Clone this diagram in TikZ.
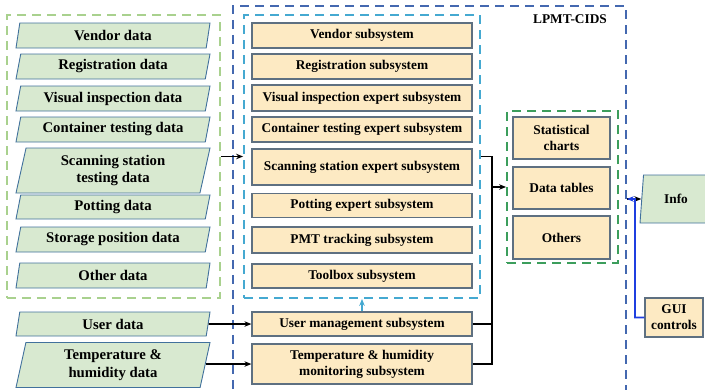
\documentclass[tikz,border=0pt]{standalone}
\usepackage{fontspec}
\setmainfont{Liberation Serif}
\usetikzlibrary{arrows.meta,positioning,shapes.geometric}
\definecolor{datfill}{HTML}{D8E9D0}
\definecolor{datline}{HTML}{41719C}
\definecolor{subfill}{HTML}{FDEAC3}
\definecolor{subline}{HTML}{5E7081}
\definecolor{lgreen}{HTML}{A9D18E}
\definecolor{dgreen}{HTML}{3C9E5C}
\definecolor{navy}{HTML}{4468B0}
\definecolor{cyanish}{HTML}{45A9D1}
\definecolor{guiblue}{HTML}{1F3FE0}

\begin{document}
\begin{tikzpicture}[x=1bp,y=-1bp,
  dat/.style={trapezium,trapezium left angle=73,trapezium right angle=107,trapezium stretches body,
    draw=datline,fill=datfill,line width=0.9bp,minimum width=194bp,inner sep=1bp,align=center,
    font=\bfseries\fontsize{14.8}{17.5}\selectfont},
  sub/.style={draw=subline,fill=subfill,line width=1.2bp,minimum width=220bp,inner sep=1bp,align=center,
    font=\bfseries\fontsize{13.4}{16}\selectfont},
  grp/.style={line width=1.8bp,dash pattern=on 9bp off 6bp,inner sep=0pt},
  wire/.style={line width=1.6bp,line join=miter},
  conn/.style={line width=1.6bp,-{Stealth[length=7bp,width=5.5bp]}}]
\useasboundingbox (0,0) rectangle (705,389);
% dashed groups
\node[grp,draw=lgreen,minimum width=213bp,minimum height=283bp] (dgrp) at (113.5,156.5) {};
\node[grp,draw=navy,minimum width=393bp,minimum height=400bp,anchor=north west] (sys) at (232,5) {};
\node[grp,draw=cyanish,minimum width=236bp,minimum height=283bp] (sgrp) at (362,156.5) {};
\node[grp,draw=dgreen,minimum width=111bp,minimum height=152bp] (ogrp) at (562.5,187) {};
\node[font=\bfseries\fontsize{13.4}{16}\selectfont] (lbl) at (570,19) {LPMT-CIDS};
% data sources
\foreach \n/\y/\h/\t in {vend/35.5/25/Vendor data, reg/66.5/25/Registration data,
  vis/98.5/25/Visual inspection data, cont/129.5/25/Container testing data,
  scan/170.5/45/{Scanning station\\testing data}, pot/207/24/Potting data,
  stor/239.5/25/Storage position data, oth/275.5/25/Other data,
  user/324/24/User data, temp/365/45/{Temperature \&\\humidity data}}
  \node[dat,minimum height=\h bp] (d\n) at (113,\y) {\t};
% subsystems
\foreach \n/\y/\h/\t in {vend/35.5/25/Vendor subsystem, reg/66.5/25/Registration subsystem,
  vis/98/26/Visual inspection expert subsystem, cont/129.5/25/Container testing expert subsystem,
  scan/167/36/Scanning station expert subsystem, pot/205.5/24/Potting expert subsystem,
  pmt/240/26/PMT tracking subsystem, tool/276/24/Toolbox subsystem,
  umg/324/24/User management subsystem, temp/364/40/{Temperature \& humidity\\monitoring subsystem}}
  \node[sub,minimum height=\h bp] (s\n) at (362,\y) {\t};
% outputs
\foreach \n/\y/\h/\t in {stat/138/42/{Statistical\\charts}, tab/188/42/Data tables, othr/237.5/43/Others}
  \node[sub,minimum width=97bp,minimum height=\h bp] (o\n) at (561.5,\y) {\t};
\node[dat,minimum width=72bp,minimum height=48bp,font=\bfseries\fontsize{13.4}{16}\selectfont] (info) at (676,199) {Info};
\node[sub,minimum width=58bp,minimum height=39bp] (gui) at (674,317.5) {GUI\\controls};
% connectors
\draw[conn] (dgrp.east) -- (sgrp.west);
\draw[conn] (duser.east) -- (sumg.west);
\draw[conn] (dtemp.east |- stemp.west) -- (stemp.west);
\draw[conn,cyanish] (sumg.north) -- (sgrp.south);
\coordinate (jn) at (492,187);
\draw[wire] (sgrp.east) -| (jn);
\draw[wire] (sumg.east) -| (jn);
\draw[wire] (stemp.east) -| (jn);
\draw[conn] (jn) -- (ogrp.west);
\coordinate (sysR) at (sys.east |- info.west);
\coordinate (bj) at (635,199);
\draw[conn] (sysR) -- (info.west);
\draw[conn,guiblue,line width=1.6bp] (gui.west) -| (bj) -- (sysR);
\end{tikzpicture}
\end{document}
